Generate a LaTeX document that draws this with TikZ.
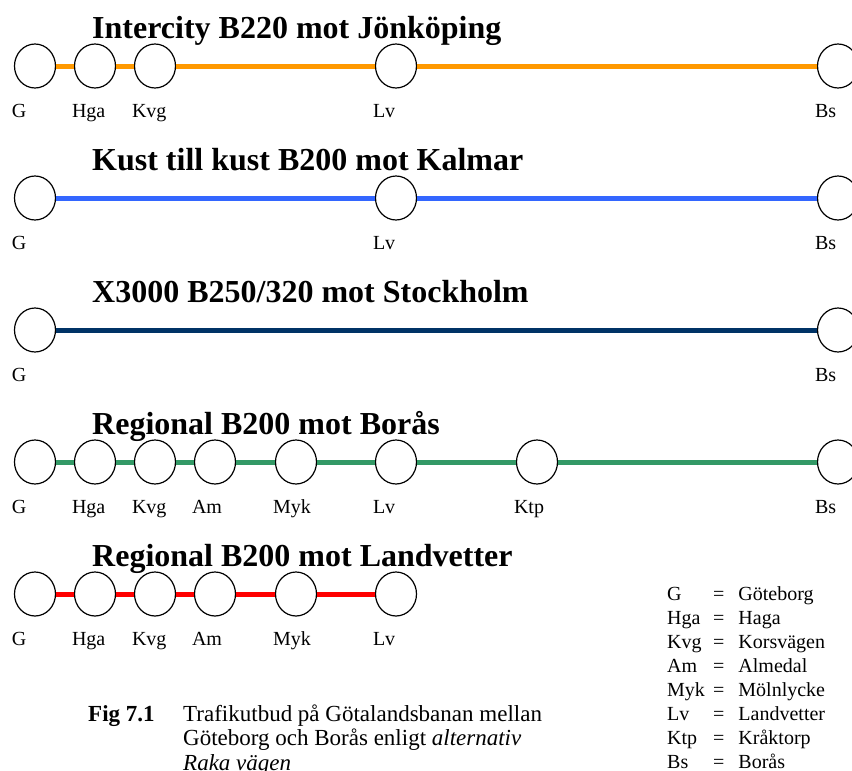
\documentclass[tikz,border=0pt]{standalone}
\usepackage{fontspec}
\setmainfont{Liberation Serif}
\usetikzlibrary{shapes.geometric, positioning}

\definecolor{icorange}{HTML}{FF9900}
\definecolor{kkblue}{HTML}{3366FF}
\definecolor{xnavy}{HTML}{003366}
\definecolor{reggreen}{HTML}{339966}
\definecolor{regred}{HTML}{FF0000}

\begin{document}
\begin{tikzpicture} [
						x=1pt, y=-1pt,
						station/.style={draw, ellipse, line width=1.2pt, fill=white,
							minimum width=41pt, minimum height=44pt, inner sep=0pt},
						tag/.style={label={[lbl, inner sep=0pt, label distance=12pt]below:\makebox[46pt][l]{\strut #1}}},
						lbl/.style={font=\fontsize{20}{24}\selectfont},
						title/.style={anchor=base west, inner sep=0pt, font=\fontsize{32}{36}\selectfont\bfseries},
						track/.style={line width=5pt}
					]

\useasboundingbox (0,0) rectangle (852,771);

% Intercity
\node (t1) [title] at (92,38) {Intercity B220 mot Jönköping};
\node (G1)   [station, tag=G]   at (35,66)  {};
\node (Hga1) [station, tag=Hga] at (95,66)  {};
\node (Kvg1) [station, tag=Kvg] at (155,66) {};
\node (Lv1)  [station, tag=Lv]  at (396,66) {};
\node (Bs1)  [station, tag=Bs]  at (838,66) {};

\path[track, icorange]
	(G1) edge (Hga1)
	(Hga1) edge (Kvg1)
	(Kvg1) edge (Lv1)
	(Lv1) edge (Bs1);

% Kust till kust
\node (t2) [title] at (92,170) {Kust till kust B200 mot Kalmar};
\node (G2)  [station, tag=G]  at (35,198)  {};
\node (Lv2) [station, tag=Lv] at (396,198) {};
\node (Bs2) [station, tag=Bs] at (838,198) {};

\path[track, kkblue]
	(G2) edge (Lv2)
	(Lv2) edge (Bs2);

% X3000
\node (t3) [title] at (92,302) {X3000 B250/320 mot Stockholm};
\node (G3)  [station, tag=G]  at (35,330)  {};
\node (Bs3) [station, tag=Bs] at (838,330) {};

\path[track, xnavy]
	(G3) edge (Bs3);

% Regional Borås
\node (t4) [title] at (92,434) {Regional B200 mot Borås};
\node (G4)   [station, tag=G]   at (35,462)  {};
\node (Hga4) [station, tag=Hga] at (95,462)  {};
\node (Kvg4) [station, tag=Kvg] at (155,462) {};
\node (Am4)  [station, tag=Am]  at (215,462) {};
\node (Myk4) [station, tag=Myk] at (296,462) {};
\node (Lv4)  [station, tag=Lv]  at (396,462) {};
\node (Ktp4) [station, tag=Ktp] at (537,462) {};
\node (Bs4)  [station, tag=Bs]  at (838,462) {};

\path[track, reggreen]
	(G4) edge (Hga4)
	(Hga4) edge (Kvg4)
	(Kvg4) edge (Am4)
	(Am4) edge (Myk4)
	(Myk4) edge (Lv4)
	(Lv4) edge (Ktp4)
	(Ktp4) edge (Bs4);

% Regional Landvetter
\node (t5) [title] at (92,566) {Regional B200 mot Landvetter};
\node (G5)   [station, tag=G]   at (35,594)  {};
\node (Hga5) [station, tag=Hga] at (95,594)  {};
\node (Kvg5) [station, tag=Kvg] at (155,594) {};
\node (Am5)  [station, tag=Am]  at (215,594) {};
\node (Myk5) [station, tag=Myk] at (296,594) {};
\node (Lv5)  [station, tag=Lv]  at (396,594) {};

\path[track, regred]
	(G5) edge (Hga5)
	(Hga5) edge (Kvg5)
	(Kvg5) edge (Am5)
	(Am5) edge (Myk5)
	(Myk5) edge (Lv5);

% key
\foreach \ab/\nm [count=\i] in {G/Göteborg, Hga/Haga, Kvg/Korsvägen, Am/Almedal,
		Myk/Mölnlycke, Lv/Landvetter, Ktp/Kråktorp, Bs/Borås}
	\node (k\i) [lbl, anchor=base west, inner sep=0pt] at (667,600+24*\i-24)
		{\makebox[46pt][l]{\ab}=\hspace{14pt}\nm};

% caption
\node (fig) [anchor=base west, inner sep=0pt, font=\fontsize{23}{24.5}\selectfont\bfseries] at (88,721) {Fig 7.1};
\node (cap) [anchor=base west, inner sep=0pt, align=left, font=\fontsize{23}{24.5}\selectfont] at (183,770)
	{Trafikutbud på Götalandsbanan mellan\\ Göteborg och Borås enligt \textit{alternativ}\\ \textit{Raka vägen}};

\end{tikzpicture}
\end{document}
